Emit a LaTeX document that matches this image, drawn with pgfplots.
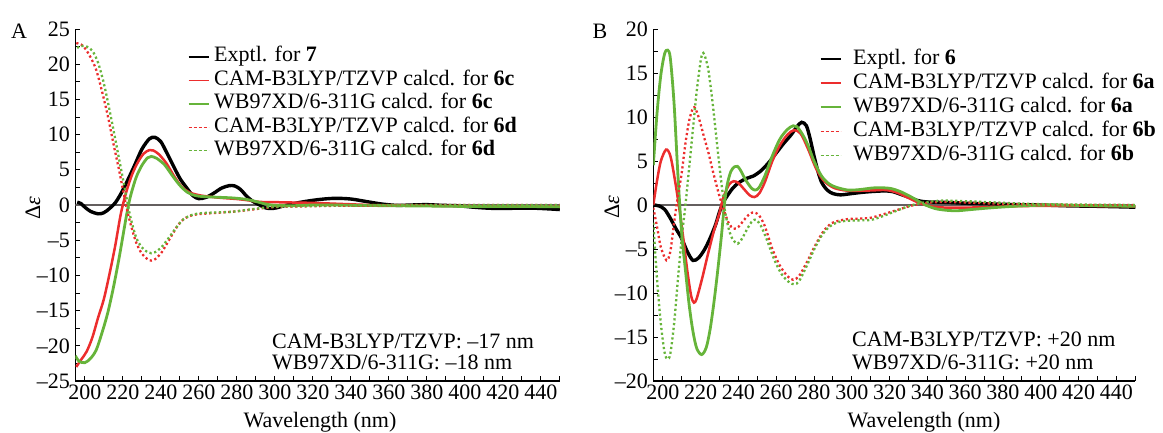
\documentclass[border=0pt]{standalone}
\usepackage{pgfplots}
\pgfplotsset{compat=1.18}
\usepackage{fontspec}
\setmainfont{Liberation Serif}
\newcommand\fs{\fontsize{22}{24}\selectfont}
\definecolor{cred}{RGB}{236,45,45}
\definecolor{cgreen}{RGB}{102,180,58}
\definecolor{zerogray}{RGB}{100,95,95}
\pgfplotsset{
  cdaxis/.style={
    scale only axis, anchor=south west,
    axis lines=left, axis line style={-, line width=1.1pt, black},
    xmin=195, xmax=450, height=352pt,
    xtick={200,220,...,440}, minor xtick={210,230,...,450},
    xticklabels={200,220,240,260,280,300,320,340,360,380,400,420,440},
    tick align=inside, major tick length=5pt, minor tick length=5pt,
    every tick/.style={black, line width=0.9pt},
    tick label style={font=\fs},
    yticklabel style={xshift=-2pt},
    clip=true,
    legend cell align=left,
  },
  expt/.style={black, line width=3.4pt, smooth, tension=0.5},
  rsol/.style={cred, line width=2.5pt, smooth, tension=0.5},
  gsol/.style={cgreen, line width=2.8pt, smooth, tension=0.5},
  rdot/.style={cred, line width=2.3pt, dash pattern=on 2.2pt off 2.6pt, smooth, tension=0.5},
  gdot/.style={cgreen, line width=2.3pt, dash pattern=on 2.2pt off 2.6pt, smooth, tension=0.5},
}
\begin{document}
\begin{tikzpicture}
\useasboundingbox (0,0) rectangle (1163pt,433pt);
% ---------------- Panel A ----------------
\begin{axis}[cdaxis, at={(75.3pt,52pt)}, width=484.5pt,
  ymin=-25, ymax=25,
  ytick={-25,-20,...,25}, minor ytick={-22.5,-17.5,...,22.5},
  yticklabels={–25,–20,–15,–10,–5,0,5,10,15,20,25},
  legend image code/.code={\draw[#1] (0pt,0pt) -- (20pt,0pt);},
  legend style={at={(0.2326,0.949)}, anchor=north west, draw=none, fill=none,
    inner sep=0pt, outer sep=0pt, row sep=3.5pt, column sep=5pt,
    nodes={inner sep=0pt, text height=15pt, text depth=5pt, font=\fs}},
]
\addlegendimage{black, line width=1.2pt}
\addlegendentry{Exptl. for \textbf{7}}
\addlegendimage{cred, line width=1.2pt}
\addlegendentry{CAM-B3LYP/TZVP calcd. for \textbf{6c}}
\addlegendimage{cgreen, line width=1.2pt}
\addlegendentry{WB97XD/6-311G calcd. for \textbf{6c}}
\addlegendimage{cred, line width=1.1pt, dash pattern=on 3pt off 2pt}
\addlegendentry{CAM-B3LYP/TZVP calcd. for \textbf{6d}}
\addlegendimage{cgreen, line width=1.1pt, dash pattern=on 3pt off 2pt}
\addlegendentry{WB97XD/6-311G calcd. for \textbf{6d}}

\addplot[zerogray, line width=1.3pt, forget plot] coordinates {(195,0) (450,0)};

\addplot[expt, forget plot] coordinates {
(196,0.4)(198,0.2)(200,-0.3)(203,-0.9)(207,-1.25)(210,-1.1)(213,-0.5)(216,0.3)(219,1.6)(222,3.2)(226,5.5)(230,7.9)(234,9.4)(237,9.6)(240,9.0)(243,7.5)(246,5.9)(250,3.8)(254,2.3)(257,1.3)(260,0.9)(264,1.1)(268,1.7)(272,2.4)(276,2.75)(279,2.7)(282,2.2)(285,1.3)(288,0.6)(292,0.0)(295,-0.4)(298,-0.5)(301,-0.4)(305,-0.1)(310,0.2)(316,0.5)(324,0.8)(332,0.95)(340,0.85)(348,0.5)(356,0.15)(364,-0.05)(372,0.0)(380,0.05)(388,-0.05)(396,-0.1)(404,-0.3)(412,-0.45)(420,-0.5)(428,-0.45)(436,-0.45)(444,-0.55)(450,-0.65)
};
\addplot[rsol, forget plot] coordinates {
(195.5,-23.0)(198,-22.0)(201,-20.8)(204,-18.8)(207,-16.0)(210,-13.4)(213,-9.8)(216,-5.8)(219,-1.2)(222,2.0)(225,4.4)(228,6.1)(231,7.3)(234,7.8)(236,7.75)(239,7.2)(243,5.9)(247,4.1)(251,2.6)(255,1.8)(260,1.4)(265,1.2)(270,1.05)(275,0.95)(280,0.85)(285,0.7)(290,0.5)(295,0.4)(300,0.4)(310,0.35)(320,0.3)(330,0.2)(340,0.1)(350,0.0)(360,-0.05)(380,-0.1)(400,-0.15)(420,-0.2)(450,-0.25)
};
\addplot[gsol, forget plot] coordinates {
(195,-21.4)(197,-22.2)(200,-22.4)(203,-21.8)(206,-20.6)(209,-18.2)(212,-15.4)(215,-11.8)(218,-7.6)(220,-4.5)(222,-1.4)(224,1.2)(227,3.9)(230,5.6)(233,6.7)(235,6.9)(238,6.6)(242,5.7)(246,4.2)(250,2.8)(254,1.8)(258,1.35)(262,1.2)(270,1.1)(278,1.0)(285,0.8)(290,0.5)(295,0.15)(300,-0.05)(310,-0.1)(320,0.0)(330,0.0)(340,-0.05)(360,-0.1)(380,-0.15)(400,-0.2)(420,-0.2)(450,-0.25)
};
\addplot[rdot, forget plot] coordinates {
(195.5,23.0)(198,22.8)(200,22.3)(203,21.0)(206,19.2)(209,16.2)(212,12.8)(215,8.8)(218,5.0)(221,0.9)(222,-0.4)(224,-2.6)(227,-5.3)(230,-6.9)(233,-7.7)(235,-7.9)(237,-7.7)(240,-6.9)(243,-5.6)(246,-4.2)(249,-2.9)(252,-2.0)(256,-1.5)(260,-1.3)(265,-1.2)(270,-1.1)(278,-0.95)(285,-0.75)(291,-0.55)(297,-0.35)(305,-0.25)(315,-0.2)(325,-0.15)(335,-0.1)(350,-0.05)(370,0.0)(400,0.0)(450,0.0)
};
\addplot[gdot, forget plot] coordinates {
(196,22.3)(198,22.6)(201,22.5)(204,21.9)(207,20.2)(210,17.3)(213,13.5)(216,9.4)(219,5.2)(222,1.0)(224,-1.7)(227,-4.6)(230,-6.0)(233,-6.7)(235,-6.85)(237,-6.7)(240,-6.1)(243,-5.1)(246,-4.0)(249,-2.9)(252,-2.0)(256,-1.45)(260,-1.2)(265,-1.1)(270,-1.05)(278,-0.95)(285,-0.7)(291,-0.5)(297,-0.3)(305,-0.2)(315,-0.15)(325,-0.1)(335,-0.05)(350,0.0)(400,0.0)(450,0.0)
};
\end{axis}
% ---------------- Panel B ----------------
\begin{axis}[cdaxis, at={(653.3pt,52pt)}, width=482pt,
  ymin=-20, ymax=20,
  ytick={-20,-15,...,20}, minor ytick={-17.5,-12.5,...,17.5},
  yticklabels={–20,–15,–10,–5,0,5,10,15,20},
  legend image code/.code={\draw[#1] (0pt,0pt) -- (20pt,0pt);},
  legend style={at={(0.3458,0.943)}, anchor=north west, draw=none, fill=none,
    inner sep=0pt, outer sep=0pt, row sep=4pt, column sep=12pt,
    nodes={inner sep=0pt, text height=15pt, text depth=5pt, font=\fs}},
]
\addlegendimage{black, line width=1.2pt}
\addlegendentry{Exptl. for \textbf{6}}
\addlegendimage{cred, line width=1.2pt}
\addlegendentry{CAM-B3LYP/TZVP calcd. for \textbf{6a}}
\addlegendimage{cgreen, line width=1.2pt}
\addlegendentry{WB97XD/6-311G calcd. for \textbf{6a}}
\addlegendimage{cred, line width=1.1pt, dash pattern=on 3pt off 2pt}
\addlegendentry{CAM-B3LYP/TZVP calcd. for \textbf{6b}}
\addlegendimage{cgreen, line width=1.1pt, dash pattern=on 3pt off 2pt}
\addlegendentry{WB97XD/6-311G calcd. for \textbf{6b}}

\addplot[zerogray, line width=1.3pt, forget plot] coordinates {(195,0) (450,0)};

\addplot[expt, forget plot] coordinates {
(195,0.0)(198,-0.1)(201,-0.5)(204,-1.5)(207,-2.7)(210,-3.8)(213,-5.3)(216,-6.3)(219,-6.0)(222,-5.1)(225,-3.8)(228,-2.2)(230,-0.8)(232,0.3)(234,1.0)(237,1.9)(240,2.5)(244,3.0)(248,3.3)(252,3.9)(256,4.8)(260,5.9)(264,7.0)(268,8.0)(271,8.9)(273.5,9.4)(276,9.0)(278,7.5)(280,5.6)(282,3.9)(284,2.6)(287,1.7)(290,1.3)(294,1.15)(300,1.3)(306,1.45)(312,1.55)(318,1.6)(322,1.5)(326,1.2)(330,0.9)(335,0.5)(340,0.35)(350,0.3)(360,0.2)(370,0.15)(385,0.05)(400,0.0)(415,-0.1)(430,-0.15)(450,-0.25)
};
\addplot[rsol, forget plot] coordinates {
(195,0.0)(197,2.8)(199,5.0)(201.8,6.3)(204,5.6)(206,3.4)(208.5,0.0)(211,-4.0)(213,-7.5)(215,-10.3)(216.5,-11.1)(218,-10.6)(221,-8.2)(224,-5.5)(227,-3.0)(230,-0.9)(232,0.8)(235,2.3)(237.5,2.7)(240,2.5)(243,1.8)(246,1.1)(248.5,0.9)(251,1.3)(254,2.6)(258,5.0)(262,6.8)(266,8.0)(269.5,8.5)(273,8.1)(277,6.3)(281,4.2)(285,2.8)(290,2.0)(295,1.7)(300,1.6)(310,1.65)(318,1.7)(324,1.4)(330,0.8)(336,0.2)(342,-0.15)(350,-0.3)(360,-0.3)(370,-0.25)(385,-0.15)(400,-0.1)(420,-0.1)(450,-0.15)
};
\addplot[gsol, forget plot] coordinates {
(195,4.5)(197,10.5)(199,14.8)(201,17.2)(202.6,17.6)(204,16.7)(206,11.5)(208,3.5)(210,-3.2)(212,-7.4)(214,-11.4)(216,-14.4)(218,-16.3)(220.6,-17.0)(223,-16.2)(225,-14.2)(227,-11.2)(229,-7.6)(231,-3.6)(232.6,0.0)(234,2.2)(236,3.8)(238,4.35)(239.5,4.4)(241,4.0)(244,2.8)(247,1.9)(249,1.7)(251,2.0)(254,3.3)(258,5.6)(262,7.5)(266,8.6)(269,9.0)(271,8.9)(274,8.0)(277,6.7)(280,5.0)(284,3.3)(288,2.4)(292,2.0)(298,1.7)(304,1.75)(312,1.95)(320,1.9)(326,1.5)(332,0.85)(338,0.1)(344,-0.4)(350,-0.6)(356,-0.65)(364,-0.5)(375,-0.3)(390,-0.1)(405,0.0)(420,-0.05)(450,-0.15)
};
\addplot[rdot, forget plot] coordinates {
(195,-0.3)(197,-2.5)(199,-4.8)(202,-6.3)(204,-5.3)(206,-2.0)(208,1.0)(210,3.6)(212,7.0)(214,9.6)(216.2,11.1)(218,10.6)(220,9.2)(222,7.6)(224,6.1)(226,4.3)(228,2.6)(230,1.0)(231.5,0.0)(233,-1.0)(235,-2.1)(237.5,-2.7)(240,-2.5)(243,-1.7)(246,-1.0)(248.5,-0.85)(251,-1.2)(254,-2.4)(258,-5.0)(262,-6.9)(266,-8.1)(269,-8.5)(272,-8.1)(276,-6.6)(281,-4.45)(285,-3.0)(289,-2.1)(293,-1.8)(298,-1.6)(304,-1.55)(310,-1.45)(316,-1.1)(322,-0.7)(328,-0.3)(333,0.0)(340,0.25)(348,0.35)(358,0.3)(370,0.2)(385,0.1)(400,0.05)(420,0.0)(450,0.0)
};
\addplot[gdot, forget plot] coordinates {
(195,-2.0)(197,-8.5)(199,-13.5)(201,-16.8)(202.6,-17.5)(204,-16.9)(206,-13.5)(208,-8.5)(210,-3.8)(212,0.0)(214,4.3)(216,8.7)(218,13.0)(220,16.3)(221,17.2)(222,17.1)(224,15.5)(226,12.3)(228,8.4)(230,4.4)(232,0.8)(233,-0.8)(235,-2.8)(237,-3.9)(239.7,-4.4)(242,-3.8)(245,-2.6)(247.5,-1.8)(249.5,-1.7)(252,-2.4)(255,-3.9)(259,-6.2)(263,-7.9)(267,-8.8)(269.7,-9.0)(272,-8.7)(276,-7.0)(280,-5.1)(284,-3.5)(288,-2.5)(292,-2.0)(297,-1.8)(303,-1.75)(310,-1.7)(316,-1.3)(322,-0.8)(328,-0.3)(333,0.05)(340,0.35)(348,0.5)(358,0.45)(370,0.35)(385,0.2)(400,0.1)(420,0.05)(450,0.0)
};
\end{axis}
% ---------------- texts ----------------
\node[font=\fs] at (19pt,402pt) {A};
\node[font=\fs] at (600pt,402pt) {B};
\node[font=\fs, rotate=90] at (33pt,225pt) {Δ\textit{ε}};
\node[font=\fs, rotate=90] at (612pt,226pt) {Δ\textit{ε}};
\node[font=\fs] at (320pt,11pt) {Wavelength (nm)};
\node[font=\fs] at (924pt,11pt) {Wavelength (nm)};
\node[font=\fs, anchor=west, inner sep=0pt] at (272pt,92pt) {CAM-B3LYP/TZVP: –17 nm};
\node[font=\fs, anchor=west, inner sep=0pt] at (272pt,71pt) {WB97XD/6-311G: –18 nm};
\node[font=\fs, anchor=west, inner sep=0pt] at (852pt,94pt) {CAM-B3LYP/TZVP: +20 nm};
\node[font=\fs, anchor=west, inner sep=0pt] at (852pt,71pt) {WB97XD/6-311G: +20 nm};
\end{tikzpicture}
\end{document}
